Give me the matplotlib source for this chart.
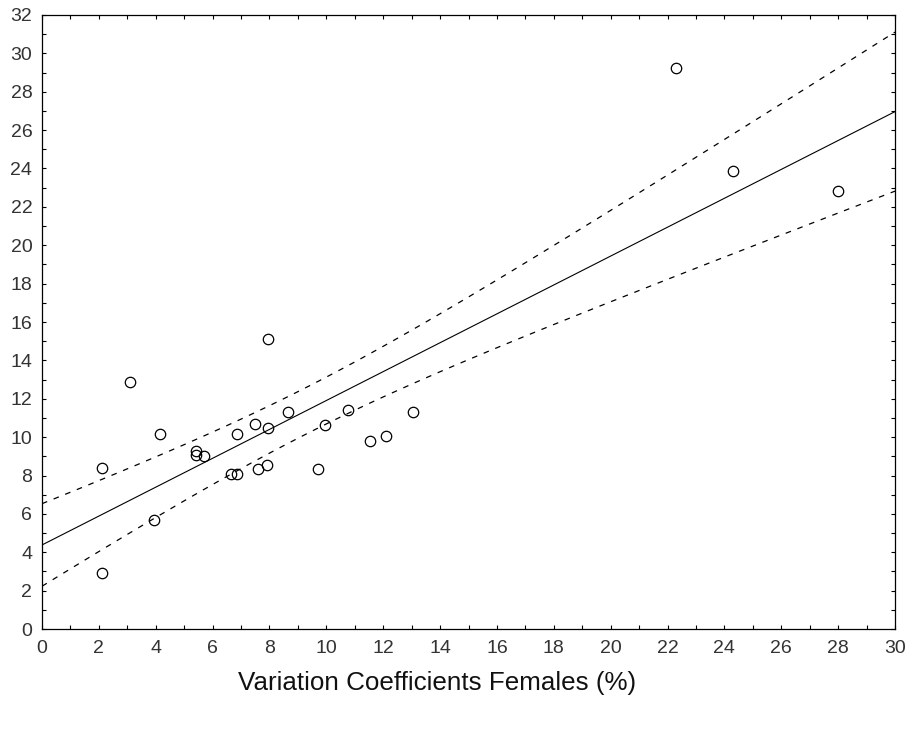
import numpy as np
import matplotlib
matplotlib.use("Agg")
import matplotlib.pyplot as plt
from matplotlib.ticker import MultipleLocator

plt.rcParams['font.family'] = ['Liberation Sans', 'DejaVu Sans']

# values
cv_females = [2.1, 2.1, 3.1, 3.95, 4.15, 5.4, 5.4, 5.7, 6.65, 6.85, 6.85, 7.5, 7.6,
              7.9, 7.95, 7.95, 8.65, 9.7, 9.95, 10.75, 11.55, 12.1, 13.05, 22.3, 24.3, 28.0]
cv_males = [8.4, 2.9, 12.85, 5.7, 10.15, 9.3, 9.05, 9.0, 8.1, 8.1, 10.15, 10.7, 8.35,
            8.55, 15.1, 10.5, 11.3, 8.35, 10.65, 11.4, 9.8, 10.05, 11.3, 29.25, 23.85, 22.85]
x_ticks = list(range(0, 31, 2))
y_ticks = list(range(0, 33, 2))

x = np.array(cv_females)
y = np.array(cv_males)
n = len(x)
slope, intercept = np.polyfit(x, y, 1)
resid = y - (slope * x + intercept)
s = np.sqrt(np.sum(resid ** 2) / (n - 2))
sxx = np.sum((x - x.mean()) ** 2)
t = 2.064  # t(0.975, 24)

xs = np.linspace(0, 30, 61)
fit = slope * xs + intercept
half = t * s * np.sqrt(1 / n + (xs - x.mean()) ** 2 / sxx)

fig = plt.figure(figsize=(9.07, 7.31), dpi=100)
ax = fig.add_axes([0.0463, 0.1395, 0.9405, 0.840])

ax.plot(xs, fit, color='black', lw=0.8)
ax.plot(xs, fit + half, color='black', lw=0.9, ls=(0, (4.5, 5.5)))
ax.plot(xs, fit - half, color='black', lw=0.9, ls=(0, (4.5, 5.5)))
ax.plot(x, y, 'o', mfc='none', mec='black', ms=7.5, mew=0.9)

ax.set_xlim(0, 30)
ax.set_ylim(0, 32)
ax.set_xticks(x_ticks)
ax.set_yticks(y_ticks)
ax.xaxis.set_minor_locator(MultipleLocator(1))
ax.yaxis.set_minor_locator(MultipleLocator(1))
ax.tick_params(which='both', direction='in', top=True, right=True, labelsize=14,
               width=0.8, length=3, color='black', labelcolor='#333333')
ax.tick_params(axis='y', which='major', pad=7)
ax.tick_params(axis='x', which='major', pad=8)
for sp in ax.spines.values():
    sp.set_linewidth(0.9)

fig.text(0.482, 0.065, 'Variation Coefficients Females (%)', ha='center', va='center',
         fontsize=18.7, color='#111111')

fig.savefig('out.png', dpi=100)
